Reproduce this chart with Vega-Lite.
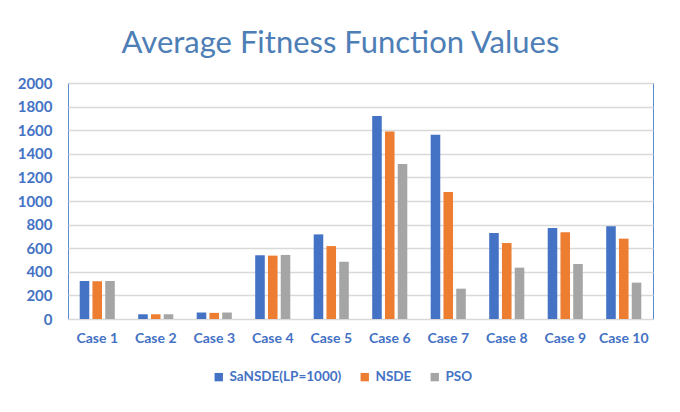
{
  "$schema": "https://vega.github.io/schema/vega-lite/v6.json",
  "width": 585,
  "height": 236,
  "autosize": {"type": "none"},
  "padding": {"left": 68, "top": 83, "right": 27, "bottom": 93},
  "background": "white",
  "title": {
    "text": "Average Fitness Function Values",
    "font": "Lato",
    "fontSize": 31,
    "fontWeight": "normal",
    "color": "#4D7EB6",
    "anchor": "middle",
    "dx": -20,
    "offset": 16
  },
  "data": {
    "values": [
      {"case": "Case 1", "method": "SaNSDE(LP=1000)", "value": 322},
      {"case": "Case 1", "method": "NSDE", "value": 320},
      {"case": "Case 1", "method": "PSO", "value": 322},
      {"case": "Case 2", "method": "SaNSDE(LP=1000)", "value": 40},
      {"case": "Case 2", "method": "NSDE", "value": 40},
      {"case": "Case 2", "method": "PSO", "value": 40},
      {"case": "Case 3", "method": "SaNSDE(LP=1000)", "value": 55},
      {"case": "Case 3", "method": "NSDE", "value": 52},
      {"case": "Case 3", "method": "PSO", "value": 55},
      {"case": "Case 4", "method": "SaNSDE(LP=1000)", "value": 540},
      {"case": "Case 4", "method": "NSDE", "value": 537},
      {"case": "Case 4", "method": "PSO", "value": 543},
      {"case": "Case 5", "method": "SaNSDE(LP=1000)", "value": 717},
      {"case": "Case 5", "method": "NSDE", "value": 618},
      {"case": "Case 5", "method": "PSO", "value": 485},
      {"case": "Case 6", "method": "SaNSDE(LP=1000)", "value": 1720},
      {"case": "Case 6", "method": "NSDE", "value": 1588},
      {"case": "Case 6", "method": "PSO", "value": 1314},
      {"case": "Case 7", "method": "SaNSDE(LP=1000)", "value": 1562},
      {"case": "Case 7", "method": "NSDE", "value": 1076},
      {"case": "Case 7", "method": "PSO", "value": 257},
      {"case": "Case 8", "method": "SaNSDE(LP=1000)", "value": 729},
      {"case": "Case 8", "method": "NSDE", "value": 644},
      {"case": "Case 8", "method": "PSO", "value": 435},
      {"case": "Case 9", "method": "SaNSDE(LP=1000)", "value": 771},
      {"case": "Case 9", "method": "NSDE", "value": 735},
      {"case": "Case 9", "method": "PSO", "value": 466},
      {"case": "Case 10", "method": "SaNSDE(LP=1000)", "value": 785},
      {"case": "Case 10", "method": "NSDE", "value": 681},
      {"case": "Case 10", "method": "PSO", "value": 308}
    ]
  },
  "mark": {"type": "bar"},
  "encoding": {
    "x": {
      "field": "case",
      "type": "nominal",
      "sort": null,
      "scale": {"paddingInner": 0.4, "paddingOuter": 0.2},
      "axis": {
        "title": null,
        "labelAngle": 0,
        "labelFont": "Lato",
        "labelFontWeight": "bold",
        "labelFontSize": 14,
        "labelColor": "#4472C4",
        "labelPadding": 12,
        "ticks": false,
        "domainColor": "#D9D9D9",
        "domainWidth": 1
      }
    },
    "xOffset": {
      "field": "method",
      "type": "nominal",
      "sort": ["SaNSDE(LP=1000)", "NSDE", "PSO"],
      "scale": {"paddingInner": 0.25}
    },
    "y": {
      "field": "value",
      "type": "quantitative",
      "scale": {"domain": [0, 2000], "nice": false},
      "axis": {
        "title": null,
        "format": "d",
        "values": [0, 200, 400, 600, 800, 1000, 1200, 1400, 1600, 1800, 2000],
        "labelFont": "Lato",
        "labelFontWeight": "bold",
        "labelFontSize": 15,
        "labelColor": "#4472C4",
        "labelPadding": 16,
        "ticks": false,
        "domain": false,
        "gridColor": "#D9D9D9",
        "gridWidth": 1.5
      }
    },
    "color": {
      "field": "method",
      "type": "nominal",
      "sort": ["SaNSDE(LP=1000)", "NSDE", "PSO"],
      "scale": {
        "domain": ["SaNSDE(LP=1000)", "NSDE", "PSO"],
        "range": ["#4472C4", "#ED7D31", "#A5A5A5"]
      },
      "legend": {
        "title": null,
        "orient": "none",
        "direction": "horizontal",
        "legendX": 144,
        "legendY": 287,
        "symbolType": "square",
        "symbolSize": 70,
        "symbolStrokeWidth": 0,
        "labelFont": "Lato",
        "labelFontWeight": "bold",
        "labelFontSize": 13.5,
        "labelColor": "#4472C4",
        "columnPadding": 16,
        "labelOffset": 4
      }
    }
  },
  "config": {
    "view": {"stroke": "#5B8BD0", "strokeWidth": 1}
  }
}
